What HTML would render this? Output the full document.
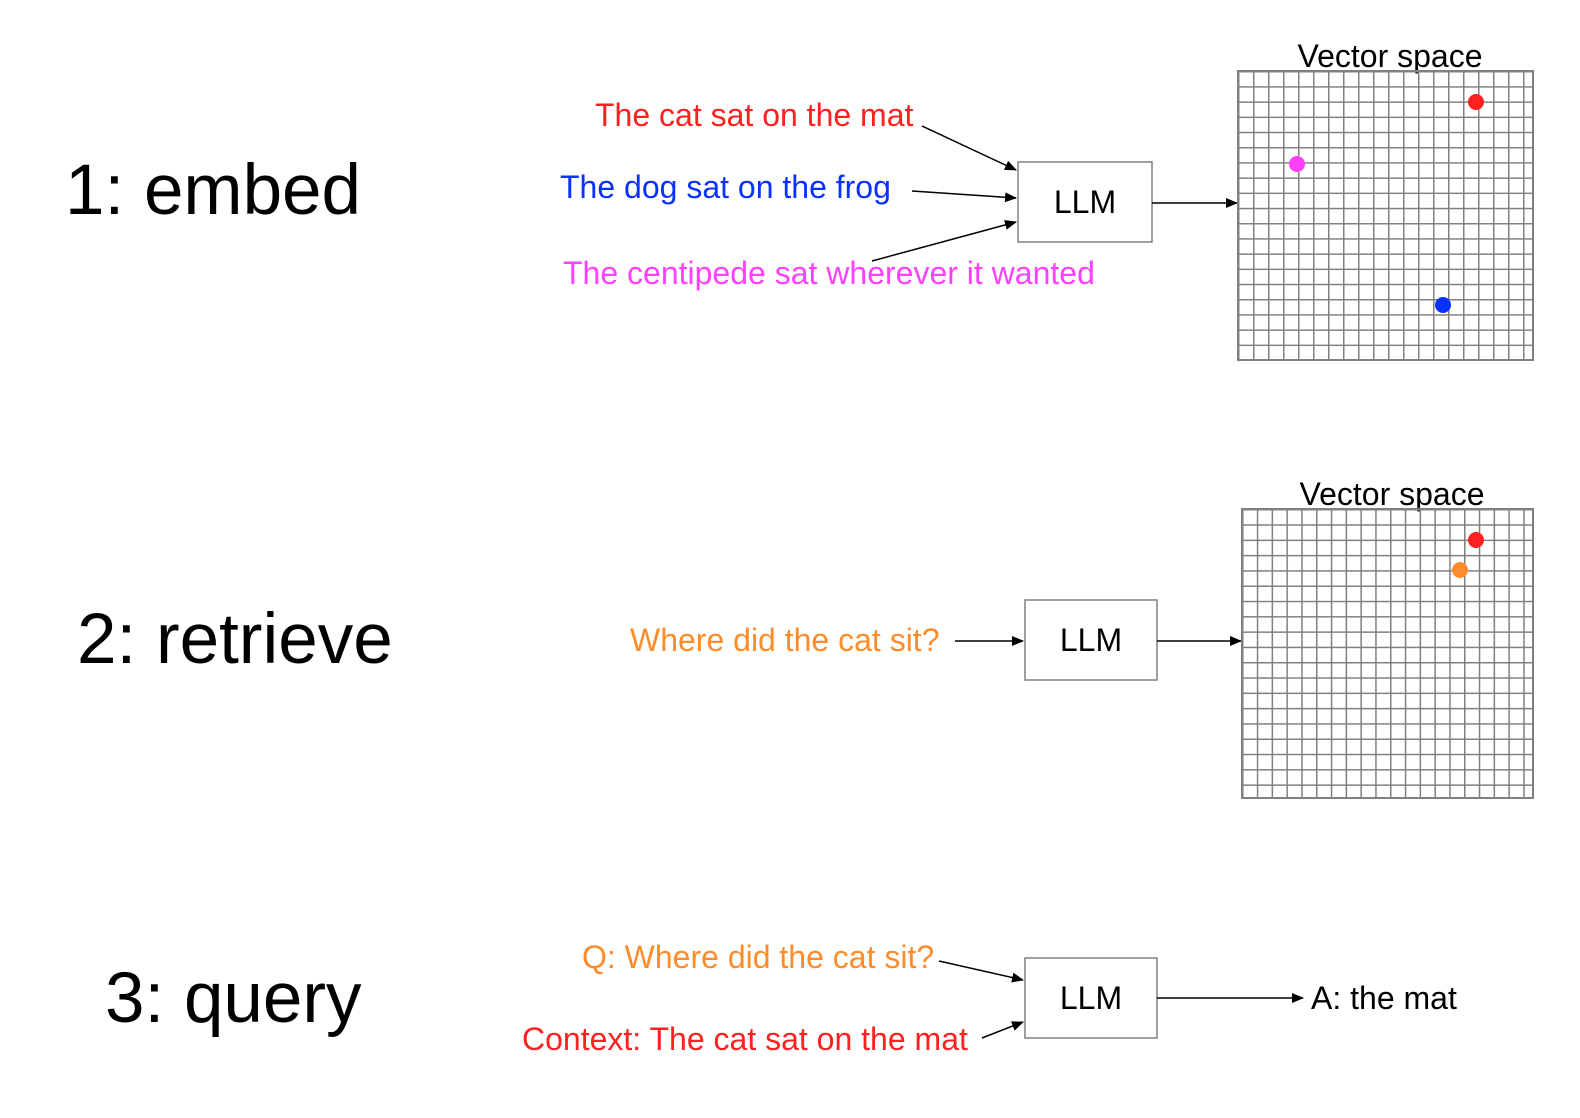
<!DOCTYPE html>
<html><head><meta charset="utf-8"><style>
body{margin:0;background:#fff;}
svg{display:block;font-family:"Liberation Sans",Arial,sans-serif;}
</style></head><body>
<svg width="1580" height="1118" viewBox="0 0 1580 1118" xmlns="http://www.w3.org/2000/svg">
<defs>
<marker id="a" markerWidth="12" markerHeight="10" refX="11" refY="5" orient="auto" markerUnits="userSpaceOnUse">
<path d="M0,0 L12,5 L0,10 Z" fill="#000"/></marker>
<pattern id="g1" x="1238" y="71" width="15" height="15.2" patternUnits="userSpaceOnUse">
<path d="M0,0 H15 M0,0 V15.2" stroke="#808080" stroke-width="3" fill="none"/></pattern>
<pattern id="g2" x="1242" y="509" width="14.8" height="15.3" patternUnits="userSpaceOnUse">
<path d="M0,0 H14.8 M0,0 V15.3" stroke="#808080" stroke-width="3" fill="none"/></pattern>
</defs>

<text x="65" y="214" font-size="71">1: embed</text>
<text x="77" y="663" font-size="71">2: retrieve</text>
<text x="105" y="1022" font-size="71">3: query</text>

<!-- section 1 -->
<text x="595" y="126" font-size="32" fill="#ff2020">The cat sat on the mat</text>
<text x="560" y="198" font-size="32" fill="#0a32ff">The dog sat on the frog</text>
<text x="563" y="284" font-size="32" fill="#ff40ff">The centipede sat wherever it wanted</text>
<line x1="922" y1="126" x2="1016" y2="170" stroke="#000" stroke-width="1.5" marker-end="url(#a)"/>
<line x1="912" y1="191" x2="1016" y2="198" stroke="#000" stroke-width="1.5" marker-end="url(#a)"/>
<line x1="872" y1="261" x2="1016" y2="222" stroke="#000" stroke-width="1.5" marker-end="url(#a)"/>
<rect x="1018" y="162" width="134" height="80" fill="#fff" stroke="#808080" stroke-width="1.5"/>
<text x="1085" y="213" font-size="32" text-anchor="middle">LLM</text>
<line x1="1152" y1="203" x2="1237" y2="203" stroke="#000" stroke-width="1.5" marker-end="url(#a)"/>
<text x="1390" y="67" font-size="32" text-anchor="middle">Vector space</text>
<rect x="1238" y="71" width="295" height="289" fill="url(#g1)"/>
<rect x="1238" y="71" width="295" height="289" fill="none" stroke="#808080" stroke-width="2"/>
<circle cx="1476" cy="102" r="8" fill="#ff2020"/>
<circle cx="1297" cy="164" r="8" fill="#ff40ff"/>
<circle cx="1443" cy="305" r="8" fill="#0a32ff"/>

<!-- section 2 -->
<text x="630" y="651" font-size="32" fill="#ff8c2a">Where did the cat sit?</text>
<line x1="955" y1="641" x2="1023" y2="641" stroke="#000" stroke-width="1.5" marker-end="url(#a)"/>
<rect x="1025" y="600" width="132" height="80" fill="#fff" stroke="#808080" stroke-width="1.5"/>
<text x="1091" y="651" font-size="32" text-anchor="middle">LLM</text>
<line x1="1157" y1="641" x2="1241" y2="641" stroke="#000" stroke-width="1.5" marker-end="url(#a)"/>
<text x="1392" y="505" font-size="32" text-anchor="middle">Vector space</text>
<rect x="1242" y="509" width="291" height="289" fill="url(#g2)"/>
<rect x="1242" y="509" width="291" height="289" fill="none" stroke="#808080" stroke-width="2"/>
<circle cx="1476" cy="540" r="8" fill="#ff2020"/>
<circle cx="1460" cy="570" r="8" fill="#ff8c2a"/>

<!-- section 3 -->
<text x="582" y="968" font-size="32" fill="#ff8c2a">Q: Where did the cat sit?</text>
<text x="522" y="1050" font-size="32" fill="#ff2020">Context: The cat sat on the mat</text>
<line x1="939" y1="961" x2="1023" y2="980" stroke="#000" stroke-width="1.5" marker-end="url(#a)"/>
<line x1="982" y1="1038" x2="1023" y2="1022" stroke="#000" stroke-width="1.5" marker-end="url(#a)"/>
<rect x="1025" y="958" width="132" height="80" fill="#fff" stroke="#808080" stroke-width="1.5"/>
<text x="1091" y="1009" font-size="32" text-anchor="middle">LLM</text>
<line x1="1157" y1="998" x2="1303" y2="998" stroke="#000" stroke-width="1.5" marker-end="url(#a)"/>
<text x="1311" y="1009" font-size="32">A: the mat</text>
</svg>
</body></html>
